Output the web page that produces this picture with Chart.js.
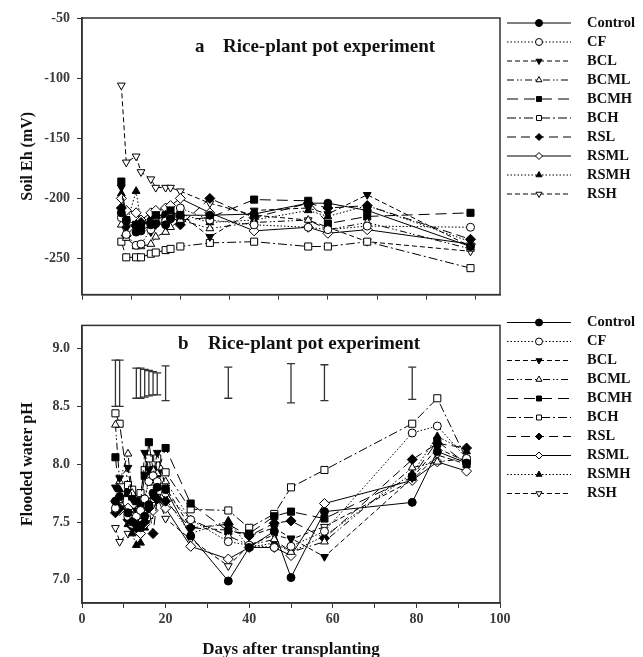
<!DOCTYPE html>
<html>
<head>
<meta charset="utf-8">
<script src="https://cdn.jsdelivr.net/npm/chart.js@4.4.0/dist/chart.umd.min.js"></script>
<style>
body { margin: 0; background: #fff; }
#wrap { position: relative; width: 643px; height: 657px; overflow: hidden; }
#ehChart { position: absolute; left: 0; top: 0; }
#phChart { position: absolute; left: 0; top: 310px; }
</style>
</head>
<body>
<div id="wrap">
  <canvas id="ehChart" width="643" height="310"></canvas>
  <canvas id="phChart" width="643" height="347"></canvas>
</div>
<script>
// series names (same order in both panels)
const seriesNames = ["Control", "CF", "BCL", "BCML", "BCMH", "BCH", "RSL", "RSML", "RSMH", "RSH"];

// panel a : soil Eh (mV)
const ehDays = [8, 9, 11, 12, 14, 15, 17, 18, 20, 26, 35, 46, 50, 58, 79];
const ehControl = [-212, -218, -228, -227, -222, -221, -222, -217, -214, -214, -213, -204, -204, -210, -240];
const ehCF = [-216, -230, -239, -238, -226, -220, -219, -216, -208, -218, -222, -224, -226, -223, -224];
const ehBCL = [-191, -225, -222, -225, -228, -222, -219, -216, -213, -232, -210, -208, -213, -197, -240];
const ehBCML = [-222, -233, -240, -240, -238, -232, -228, -224, -218, -225, -220, -218, -226, -220, -242];
const ehBCMH = [-186, -218, -222, -222, -220, -214, -214, -210, -218, -216, -201, -202, -221, -215, -212];
const ehBCH = [-236, -249, -249, -249, -246, -245, -243, -242, -240, -237, -236, -240, -240, -236, -258];
const ehRSL = [-208, -231, -222, -220, -220, -216, -214, -213, -222, -200, -216, -204, -208, -206, -234];
const ehRSML = [-200, -210, -212, -218, -212, -210, -208, -206, -200, -212, -227, -224, -229, -226, -238];
const ehRSMH = [-196, -222, -194, -220, -216, -212, -214, -212, -213, -220, -218, -210, -215, -206, -236];
const ehRSH = [-106, -170, -165, -178, -184, -191, -191, -191, -194, -204, -214, -218, -224, -236, -244];

// panel b : flooded water pH
const phDays = [8, 9, 11, 12, 13, 14, 15, 16, 17, 18, 20, 26, 35, 40, 46, 50, 58, 79, 85, 92];
const phControl = [7.68, 7.72, 7.58, 7.50, 7.48, 7.45, 7.55, 7.65, 7.75, 7.80, 7.78, 7.38, 6.99, 7.28, 7.42, 7.02, 7.59, 7.67, 8.11, 8.01];
const phCF = [7.62, 7.70, 7.55, 7.48, 7.55, 7.60, 7.70, 7.85, 7.90, 7.85, 7.75, 7.52, 7.33, 7.30, 7.28, 7.29, 7.42, 8.27, 8.33, 8.05];
const phBCL = [7.80, 7.88, 7.97, 7.70, 7.60, 7.65, 8.10, 7.95, 7.90, 8.10, 7.80, 7.45, 7.43, 7.38, 7.45, 7.36, 7.20, 7.88, 8.14, 8.02];
const phBCML = [8.34, 7.85, 8.09, 7.75, 7.60, 7.55, 7.70, 7.88, 7.95, 7.92, 7.85, 7.52, 7.38, 7.30, 7.35, 7.24, 7.33, 7.97, 8.02, 8.05];
const phBCMH = [8.06, 7.70, 7.75, 7.72, 7.68, 7.65, 7.90, 8.19, 7.95, 7.92, 8.14, 7.66, 7.42, 7.40, 7.55, 7.59, 7.53, 7.89, 8.20, 8.00];
const phBCH = [8.44, 8.35, 7.82, 7.78, 7.70, 7.75, 7.95, 8.05, 7.85, 8.05, 7.93, 7.61, 7.60, 7.45, 7.57, 7.80, 7.95, 8.35, 8.57, 8.04];
const phRSL = [7.58, 7.62, 7.52, 7.46, 7.45, 7.60, 7.50, 7.62, 7.40, 7.70, 7.68, 7.45, 7.48, 7.38, 7.49, 7.51, 7.36, 8.04, 8.18, 8.14];
const phRSML = [7.68, 7.60, 7.62, 7.55, 7.45, 7.40, 7.48, 7.55, 7.60, 7.70, 7.62, 7.29, 7.18, 7.28, 7.28, 7.21, 7.66, 7.86, 8.02, 7.94];
const phRSMH = [7.62, 7.78, 7.48, 7.40, 7.30, 7.32, 7.45, 7.55, 7.72, 7.82, 7.70, 7.40, 7.51, 7.28, 7.32, 7.24, 7.38, 7.92, 8.24, 8.11];
const phRSH = [7.45, 7.33, 7.40, 7.50, 7.52, 7.48, 7.55, 7.62, 7.65, 7.72, 7.53, 7.35, 7.12, 7.30, 7.39, 7.35, 7.46, 7.86, 8.08, 8.00];

// LSD bars shown in panel b
const barDays = [8, 9, 13, 14, 15, 16, 17, 18, 20, 35, 50, 58, 79];
const barLow = [8.50, 8.50, 8.57, 8.57, 8.58, 8.59, 8.60, 8.60, 8.55, 8.57, 8.53, 8.55, 8.56];
const barHigh = [8.90, 8.90, 8.83, 8.83, 8.82, 8.81, 8.80, 8.79, 8.85, 8.84, 8.87, 8.86, 8.84];

const ehValues = [ehControl, ehCF, ehBCL, ehBCML, ehBCMH, ehBCH, ehRSL, ehRSML, ehRSMH, ehRSH];
const phValues = [phControl, phCF, phBCL, phBCML, phBCMH, phBCH, phRSL, phRSML, phRSMH, phRSH];

// look of each series
const looks = [
  { shape: "circle", rot: 0, r: 4, fill: true, dash: [] },
  { shape: "circle", rot: 0, r: 4, fill: false, dash: [1.5, 2] },
  { shape: "triangle", rot: 180, r: 4.5, fill: true, dash: [5, 3] },
  { shape: "triangle", rot: 0, r: 4.5, fill: false, dash: [7, 3, 1.5, 2, 1.5, 3] },
  { shape: "rect", rot: 0, r: 5, fill: true, dash: [11, 6] },
  { shape: "rect", rot: 0, r: 5, fill: false, dash: [9, 3, 2, 3] },
  { shape: "rectRot", rot: 0, r: 5, fill: true, dash: [9, 5] },
  { shape: "rectRot", rot: 0, r: 5, fill: false, dash: [] },
  { shape: "triangle", rot: 0, r: 4.5, fill: true, dash: [1.5, 2] },
  { shape: "triangle", rot: 180, r: 4.5, fill: false, dash: [5, 3] }
];

const serif = "'Liberation Serif', 'Times New Roman', serif";
const tickColor = "#3a3a3a";

function makeSets(days, values) {
  return seriesNames.map((name, i) => ({
    label: name,
    data: days.map((d, j) => ({ x: d, y: values[i][j] })),
    borderColor: "#000",
    borderWidth: 1,
    borderDash: looks[i].dash,
    pointStyle: looks[i].shape,
    pointRotation: looks[i].rot,
    pointRadius: looks[i].r,
    pointBackgroundColor: looks[i].fill ? "#000" : "#fff",
    pointBorderColor: "#000",
    pointBorderWidth: 1,
    tension: 0,
    fill: false
  }));
}

// frame, panel title and the legend with line samples
function panelPlugin(letter, letterX, titleX, titleY, legendY) {
  return {
    id: "panel" + letter,
    afterDraw: (chart) => {
      const ctx = chart.ctx;
      const a = chart.chartArea;
      ctx.save();
      ctx.strokeStyle = "#333";
      ctx.lineWidth = 1.5;
      ctx.strokeRect(a.left, a.top, a.right - a.left, a.bottom - a.top);

      ctx.fillStyle = "#111";
      ctx.font = "bold 19px " + serif;
      ctx.textBaseline = "middle";
      ctx.textAlign = "left";
      ctx.fillText(letter, letterX, titleY);
      ctx.fillText("Rice-plant pot experiment", titleX, titleY);

      chart.data.datasets.forEach((ds, i) => {
        const y = legendY + i * 19;
        ctx.strokeStyle = "#000";
        ctx.lineWidth = 1;
        ctx.setLineDash(ds.borderDash);
        ctx.beginPath();
        ctx.moveTo(507, y);
        ctx.lineTo(571, y);
        ctx.stroke();
        ctx.setLineDash([]);
        ctx.fillStyle = ds.pointBackgroundColor;
        ctx.strokeStyle = "#000";
        Chart.helpers.drawPoint(ctx, { pointStyle: ds.pointStyle, rotation: ds.pointRotation, radius: 3.5, borderWidth: 1 }, 539, y);
        ctx.fillStyle = "#111";
        ctx.font = "bold 14.5px " + serif;
        ctx.fillText(ds.label, 587, y);
      });
      ctx.restore();
    }
  };
}

// LSD bars through the chart's scales
const barPlugin = {
  id: "lsdBars",
  afterDatasetsDraw: (chart) => {
    const ctx = chart.ctx;
    const xs = chart.scales.x;
    const ys = chart.scales.y;
    ctx.save();
    ctx.strokeStyle = "#333";
    ctx.lineWidth = 1.3;
    barDays.forEach((d, i) => {
      const x = xs.getPixelForValue(d);
      const y1 = ys.getPixelForValue(barLow[i]);
      const y2 = ys.getPixelForValue(barHigh[i]);
      ctx.beginPath();
      ctx.moveTo(x, y1); ctx.lineTo(x, y2);
      ctx.moveTo(x - 4, y1); ctx.lineTo(x + 4, y1);
      ctx.moveTo(x - 4, y2); ctx.lineTo(x + 4, y2);
      ctx.stroke();
    });
    ctx.restore();
  }
};

const gridOpts = { drawOnChartArea: false, drawTicks: true, tickLength: 5, color: "#333", lineWidth: 1 };
const borderOpts = { display: true, color: "#333", width: 1.5 };
const tickFont = { family: serif, size: 14, weight: "bold" };
const titleFont = { family: serif, size: 16, weight: "bold" };

new Chart(document.getElementById("ehChart"), {
  type: "line",
  data: { datasets: makeSets(ehDays, ehValues) },
  plugins: [panelPlugin("a", 195, 223, 47, 23)],
  options: {
    responsive: false,
    animation: false,
    layout: { padding: { top: 18, right: 143, left: 0, bottom: 0 } },
    plugins: { legend: { display: false }, tooltip: { enabled: false } },
    scales: {
      x: {
        type: "linear", min: 0, max: 85,
        ticks: { stepSize: 10, includeBounds: false, callback: () => "" },
        grid: gridOpts, border: borderOpts,
        afterFit: (s) => { s.height = 7; }
      },
      y: {
        min: -280, max: -50,
        ticks: { stepSize: 50, includeBounds: false, font: tickFont, color: tickColor, padding: 7 },
        grid: gridOpts, border: borderOpts,
        title: { display: true, text: "Soil Eh (mV)", font: titleFont, color: "#111", padding: { top: 18, bottom: 0 } },
        afterFit: (s) => { s.width = 82; }
      }
    }
  }
});

new Chart(document.getElementById("phChart"), {
  type: "line",
  data: { datasets: makeSets(phDays, phValues) },
  plugins: [panelPlugin("b", 178, 208, 34, 12.5), barPlugin],
  options: {
    responsive: false,
    animation: false,
    layout: { padding: { top: 7, right: 143, left: 0, bottom: 0 } },
    plugins: { legend: { display: false }, tooltip: { enabled: false } },
    scales: {
      x: {
        type: "linear", min: 0, max: 100,
        ticks: { stepSize: 10, font: tickFont, color: tickColor, padding: 3,
                 callback: (v) => (v % 20 === 0 ? v : "") },
        grid: gridOpts, border: borderOpts,
        title: { display: true, text: "Days after transplanting", font: { family: serif, size: 17, weight: "bold" }, color: "#111", padding: { top: 0, bottom: -3 } },
        afterFit: (s) => { s.height = 54; }
      },
      y: {
        min: 6.8, max: 9.2,
        ticks: { stepSize: 0.5, includeBounds: false, font: tickFont, color: tickColor, padding: 7,
                 callback: (v) => v.toFixed(1) },
        grid: gridOpts, border: borderOpts,
        title: { display: true, text: "Flooded water pH", font: titleFont, color: "#111", padding: { top: 18, bottom: 0 } },
        afterFit: (s) => { s.width = 82; }
      }
    }
  }
});
</script>
</body>
</html>
